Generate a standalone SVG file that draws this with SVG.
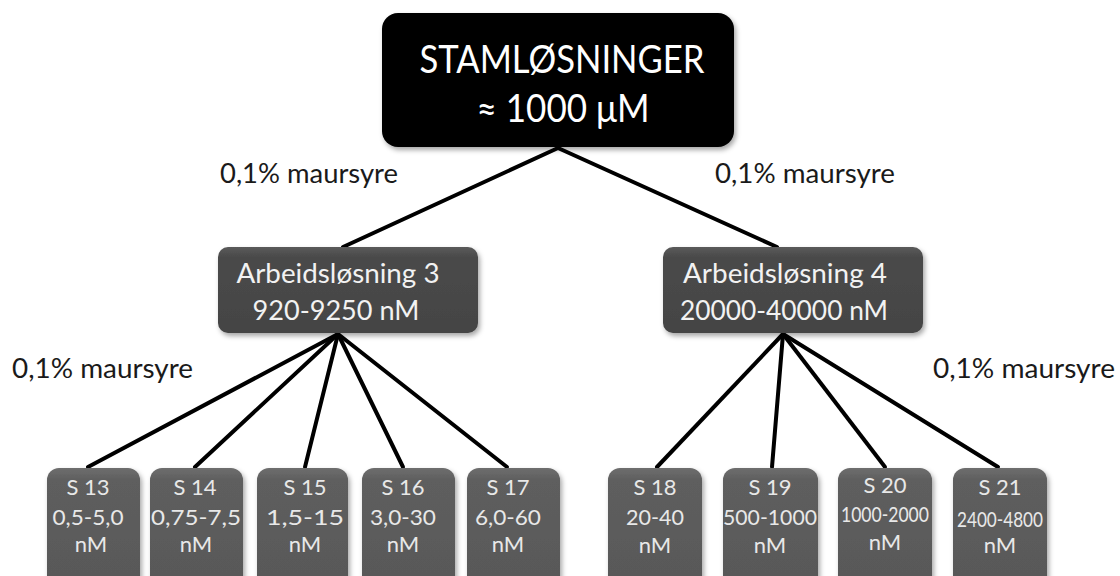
<svg xmlns="http://www.w3.org/2000/svg" width="1120" height="576" viewBox="0 0 1120 576">
<defs>
<filter id="sh" x="-10%" y="-10%" width="130%" height="130%">
<feDropShadow dx="2" dy="3" stdDeviation="2.5" flood-color="#000" flood-opacity="0.35"/>
</filter>
<linearGradient id="gMid" x1="0" y1="0" x2="0" y2="1">
<stop offset="0" stop-color="#5a5a5a"/>
<stop offset="0.12" stop-color="#4a4a4a"/>
<stop offset="1" stop-color="#444"/>
</linearGradient>
<linearGradient id="gSmall" x1="0" y1="0" x2="0" y2="1">
<stop offset="0" stop-color="#6e6e6e"/>
<stop offset="0.1" stop-color="#5e5e5e"/>
<stop offset="1" stop-color="#585858"/>
</linearGradient>
</defs>
<style>
.top{fill:#050505;filter:url(#sh)}
.mid{fill:url(#gMid);filter:url(#sh)}
.small{fill:url(#gSmall);filter:url(#sh)}
text{font-family:Lato,"Open Sans","Liberation Sans",sans-serif;text-anchor:middle}
.tt{fill:#fff;font-size:38px}
.mt{fill:#f2f2f2;font-size:27px}
.st{fill:#e8e8e8;font-size:22px}
.lab{fill:#1a1a1a;font-size:26px;text-anchor:start}
.con line{stroke:#000;stroke-width:4;stroke-linecap:round}
</style>
<g class="con">
<line x1="558" y1="148" x2="343" y2="247"/>
<line x1="558" y1="148" x2="777" y2="247"/>
<line x1="338" y1="334" x2="88" y2="467"/>
<line x1="338" y1="334" x2="195" y2="467"/>
<line x1="338" y1="334" x2="305" y2="467"/>
<line x1="338" y1="334" x2="403" y2="467"/>
<line x1="338" y1="334" x2="507" y2="467"/>
<line x1="783" y1="334" x2="657" y2="467"/>
<line x1="783" y1="334" x2="772" y2="467"/>
<line x1="783" y1="334" x2="885" y2="467"/>
<line x1="783" y1="334" x2="998" y2="467"/>
</g>
<g id="stam">
<rect class="top" x="382" y="13" width="352" height="134" rx="16"/>
<text class="tt" x="562" y="73" textLength="285" lengthAdjust="spacingAndGlyphs">STAMLØSNINGER</text>
<text class="tt" x="563" y="122" textLength="173" lengthAdjust="spacingAndGlyphs">≈ 1000 μM</text>
</g>
<g id="arb3">
<rect class="mid" x="218" y="247" width="260" height="86" rx="10"/>
<text class="mt" x="338" y="283" textLength="203" lengthAdjust="spacingAndGlyphs">Arbeidsløsning 3</text>
<text class="mt" x="336" y="320" textLength="167" lengthAdjust="spacingAndGlyphs">920-9250 nM</text>
</g>
<g id="arb4">
<rect class="mid" x="663" y="247" width="260" height="86" rx="10"/>
<text class="mt" x="785" y="283" textLength="204" lengthAdjust="spacingAndGlyphs">Arbeidsløsning 4</text>
<text class="mt" x="784" y="320" textLength="208" lengthAdjust="spacingAndGlyphs">20000-40000 nM</text>
</g>
<g id="lab1"><text class="lab" x="220" y="183" textLength="178" lengthAdjust="spacingAndGlyphs">0,1% maursyre</text></g>
<g id="lab2"><text class="lab" x="715" y="183" textLength="180" lengthAdjust="spacingAndGlyphs">0,1% maursyre</text></g>
<g id="lab3"><text class="lab" x="12" y="378" textLength="181" lengthAdjust="spacingAndGlyphs">0,1% maursyre</text></g>
<g id="lab4"><text class="lab" x="933" y="378" textLength="182" lengthAdjust="spacingAndGlyphs">0,1% maursyre</text></g>
<g id="s13">
<rect class="small" x="47" y="468" width="93" height="124" rx="12"/>
<text class="st" x="88" y="495">S 13</text>
<text class="st" x="88" y="525" textLength="71" lengthAdjust="spacingAndGlyphs">0,5-5,0</text>
<text class="st" x="91" y="552">nM</text>
</g>
<g id="s14">
<rect class="small" x="150" y="468" width="93" height="124" rx="12"/>
<text class="st" x="195" y="495">S 14</text>
<text class="st" x="196" y="525" textLength="90" lengthAdjust="spacingAndGlyphs">0,75-7,5</text>
<text class="st" x="196" y="552">nM</text>
</g>
<g id="s15">
<rect class="small" x="257" y="468" width="91" height="124" rx="12"/>
<text class="st" x="305" y="495">S 15</text>
<text class="st" x="305" y="525" textLength="78" lengthAdjust="spacingAndGlyphs">1,5-15</text>
<text class="st" x="305" y="552">nM</text>
</g>
<g id="s16">
<rect class="small" x="362" y="468" width="93" height="124" rx="12"/>
<text class="st" x="403" y="495">S 16</text>
<text class="st" x="403" y="525" textLength="66" lengthAdjust="spacingAndGlyphs">3,0-30</text>
<text class="st" x="403" y="552">nM</text>
</g>
<g id="s17">
<rect class="small" x="467" y="468" width="93" height="124" rx="12"/>
<text class="st" x="508" y="495">S 17</text>
<text class="st" x="508" y="525" textLength="66" lengthAdjust="spacingAndGlyphs">6,0-60</text>
<text class="st" x="508" y="552">nM</text>
</g>
<g id="s18">
<rect class="small" x="608" y="468" width="94" height="124" rx="12"/>
<text class="st" x="655" y="495">S 18</text>
<text class="st" x="655" y="525" textLength="58" lengthAdjust="spacingAndGlyphs">20-40</text>
<text class="st" x="655" y="553">nM</text>
</g>
<g id="s19">
<rect class="small" x="723" y="468" width="95" height="124" rx="12"/>
<text class="st" x="770" y="495">S 19</text>
<text class="st" x="770" y="525" textLength="94" lengthAdjust="spacingAndGlyphs">500-1000</text>
<text class="st" x="770" y="553">nM</text>
</g>
<g id="s20">
<rect class="small" x="838" y="468" width="94" height="124" rx="12"/>
<text class="st" x="885" y="493">S 20</text>
<text class="st" x="885" y="522" font-size="17" textLength="88" lengthAdjust="spacingAndGlyphs">1000-2000</text>
<text class="st" x="885" y="550">nM</text>
</g>
<g id="s21">
<rect class="small" x="953" y="468" width="94" height="124" rx="12"/>
<text class="st" x="1000" y="495">S 21</text>
<text class="st" x="1000" y="527" font-size="18" textLength="86" lengthAdjust="spacingAndGlyphs">2400-4800</text>
<text class="st" x="1000" y="553">nM</text>
</g>
</svg>
